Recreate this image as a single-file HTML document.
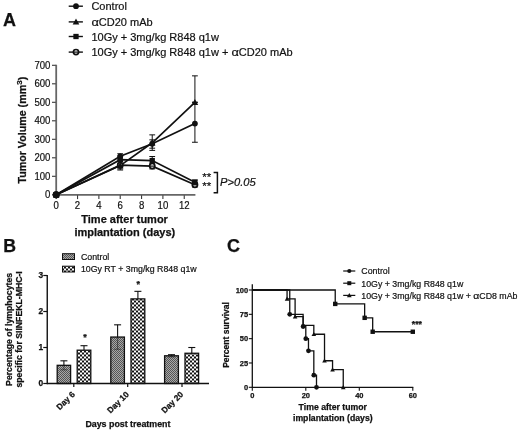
<!DOCTYPE html>
<html lang="en"><head><meta charset="utf-8"><title>Figure</title>
<style>
html,body{margin:0;padding:0;background:#fff;}
body{width:520px;height:432px;overflow:hidden;}
svg{display:block;font-family:"Liberation Sans", Arial, sans-serif;fill:#111;stroke:#111;}
svg text{stroke:#111;stroke-width:0.2px;}
svg text[font-weight=bold]{stroke:#111;stroke-width:0.25px;}
</style></head><body>
<svg width="520" height="432" viewBox="0 0 520 432">
<defs>
<pattern id="fine" width="2" height="2" patternUnits="userSpaceOnUse">
<rect width="2" height="2" fill="#a8a8a8" stroke="none"/><rect width="1" height="1" fill="#555" stroke="none"/><rect x="1" y="1" width="1" height="1" fill="#555" stroke="none"/>
</pattern>
<pattern id="check" width="4" height="4" patternUnits="userSpaceOnUse" x="2" y="0.5">
<rect width="4" height="4" fill="#fff" stroke="none"/><rect width="2" height="2" fill="#111" stroke="none"/><rect x="2" y="2" width="2" height="2" fill="#111" stroke="none"/>
</pattern>
</defs>
<rect width="520" height="432" fill="#fff" stroke="none"/>

<text x="3.00" y="26.20" font-size="18" font-weight="bold" font-style="normal" text-anchor="start">A</text>
<line x1="68.70" y1="6.20" x2="82.90" y2="6.20" stroke-width="1.4"/>
<circle cx="76.00" cy="6.20" r="2.9" fill="#111" stroke-width="0"/>
<text x="91.40" y="10.20" font-size="11" font-weight="normal" font-style="normal" text-anchor="start">Control</text>
<line x1="68.70" y1="21.90" x2="82.90" y2="21.90" stroke-width="1.4"/>
<polygon points="76.00,18.60 72.70,24.54 79.30,24.54" fill="#111" stroke="none"/>
<text x="91.40" y="25.90" font-size="11" font-weight="normal" font-style="normal" text-anchor="start"><tspan textLength="7.4" lengthAdjust="spacingAndGlyphs">&#945;</tspan>CD20 mAb</text>
<line x1="68.70" y1="36.50" x2="82.90" y2="36.50" stroke-width="1.4"/>
<rect x="73.35" y="33.85" width="5.3" height="5.3" fill="#111" stroke="none"/>
<text x="91.40" y="40.50" font-size="11" font-weight="normal" font-style="normal" text-anchor="start">10Gy + 3mg/kg R848 q1w</text>
<line x1="68.70" y1="52.10" x2="82.90" y2="52.10" stroke-width="1.4"/>
<circle cx="76.00" cy="52.10" r="2.6" fill="#fff" stroke-width="1.7"/>
<line x1="73.40" y1="52.10" x2="78.60" y2="52.10" stroke-width="1.2"/>
<text x="91.40" y="56.10" font-size="11" font-weight="normal" font-style="normal" text-anchor="start">10Gy + 3mg/kg R848 q1w + <tspan textLength="7.4" lengthAdjust="spacingAndGlyphs">&#945;</tspan>CD20 mAb</text>
<line x1="56.20" y1="194.80" x2="195.41" y2="194.80" stroke-width="1.8" stroke="#666"/>
<line x1="56.20" y1="64.70" x2="56.20" y2="195.70" stroke-width="1.8" stroke="#666"/>
<line x1="52.00" y1="194.80" x2="55.80" y2="194.80" stroke-width="1.1" stroke="#3a3a3a"/>
<text x="50.40" y="198.30" font-size="10.3" font-weight="normal" font-style="normal" text-anchor="end" textLength="5.34" lengthAdjust="spacingAndGlyphs">0</text>
<line x1="52.00" y1="176.30" x2="55.80" y2="176.30" stroke-width="1.1" stroke="#3a3a3a"/>
<text x="50.40" y="179.80" font-size="10.3" font-weight="normal" font-style="normal" text-anchor="end" textLength="16.01" lengthAdjust="spacingAndGlyphs">100</text>
<line x1="52.00" y1="157.80" x2="55.80" y2="157.80" stroke-width="1.1" stroke="#3a3a3a"/>
<text x="50.40" y="161.30" font-size="10.3" font-weight="normal" font-style="normal" text-anchor="end" textLength="16.01" lengthAdjust="spacingAndGlyphs">200</text>
<line x1="52.00" y1="139.30" x2="55.80" y2="139.30" stroke-width="1.1" stroke="#3a3a3a"/>
<text x="50.40" y="142.80" font-size="10.3" font-weight="normal" font-style="normal" text-anchor="end" textLength="16.01" lengthAdjust="spacingAndGlyphs">300</text>
<line x1="52.00" y1="120.80" x2="55.80" y2="120.80" stroke-width="1.1" stroke="#3a3a3a"/>
<text x="50.40" y="124.30" font-size="10.3" font-weight="normal" font-style="normal" text-anchor="end" textLength="16.01" lengthAdjust="spacingAndGlyphs">400</text>
<line x1="52.00" y1="102.30" x2="55.80" y2="102.30" stroke-width="1.1" stroke="#3a3a3a"/>
<text x="50.40" y="105.80" font-size="10.3" font-weight="normal" font-style="normal" text-anchor="end" textLength="16.01" lengthAdjust="spacingAndGlyphs">500</text>
<line x1="52.00" y1="83.80" x2="55.80" y2="83.80" stroke-width="1.1" stroke="#3a3a3a"/>
<text x="50.40" y="87.30" font-size="10.3" font-weight="normal" font-style="normal" text-anchor="end" textLength="16.01" lengthAdjust="spacingAndGlyphs">600</text>
<line x1="52.00" y1="65.30" x2="55.80" y2="65.30" stroke-width="1.1" stroke="#3a3a3a"/>
<text x="50.40" y="68.80" font-size="10.3" font-weight="normal" font-style="normal" text-anchor="end" textLength="16.01" lengthAdjust="spacingAndGlyphs">700</text>
<line x1="56.20" y1="195.20" x2="56.20" y2="199.10" stroke-width="1.1" stroke="#3a3a3a"/>
<text x="56.20" y="208.80" font-size="10.3" font-weight="normal" font-style="normal" text-anchor="middle" textLength="5.34" lengthAdjust="spacingAndGlyphs">0</text>
<line x1="77.54" y1="195.20" x2="77.54" y2="199.10" stroke-width="1.1" stroke="#3a3a3a"/>
<text x="77.54" y="208.80" font-size="10.3" font-weight="normal" font-style="normal" text-anchor="middle" textLength="5.34" lengthAdjust="spacingAndGlyphs">2</text>
<line x1="98.88" y1="195.20" x2="98.88" y2="199.10" stroke-width="1.1" stroke="#3a3a3a"/>
<text x="98.88" y="208.80" font-size="10.3" font-weight="normal" font-style="normal" text-anchor="middle" textLength="5.34" lengthAdjust="spacingAndGlyphs">4</text>
<line x1="120.22" y1="195.20" x2="120.22" y2="199.10" stroke-width="1.1" stroke="#3a3a3a"/>
<text x="120.22" y="208.80" font-size="10.3" font-weight="normal" font-style="normal" text-anchor="middle" textLength="5.34" lengthAdjust="spacingAndGlyphs">6</text>
<line x1="141.56" y1="195.20" x2="141.56" y2="199.10" stroke-width="1.1" stroke="#3a3a3a"/>
<text x="141.56" y="208.80" font-size="10.3" font-weight="normal" font-style="normal" text-anchor="middle" textLength="5.34" lengthAdjust="spacingAndGlyphs">8</text>
<line x1="162.90" y1="195.20" x2="162.90" y2="199.10" stroke-width="1.1" stroke="#3a3a3a"/>
<text x="162.90" y="208.80" font-size="10.3" font-weight="normal" font-style="normal" text-anchor="middle" textLength="10.68" lengthAdjust="spacingAndGlyphs">10</text>
<line x1="184.24" y1="195.20" x2="184.24" y2="199.10" stroke-width="1.1" stroke="#3a3a3a"/>
<text x="184.24" y="208.80" font-size="10.3" font-weight="normal" font-style="normal" text-anchor="middle" textLength="10.68" lengthAdjust="spacingAndGlyphs">12</text>
<text transform="translate(26.2,130.2) rotate(-90)" font-size="10.7" font-weight="bold" text-anchor="middle">Tumor Volume (mm<tspan font-size="8" dy="-4">3</tspan><tspan dy="4">)</tspan></text>
<text x="124.60" y="223.00" font-size="11" font-weight="bold" font-style="normal" text-anchor="middle">Time after tumor</text>
<text x="124.80" y="236.00" font-size="11" font-weight="bold" font-style="normal" text-anchor="middle">implantation (days)</text>
<line x1="120.22" y1="159.65" x2="120.22" y2="153.73" stroke-width="1.0"/>
<line x1="117.32" y1="159.65" x2="123.12" y2="159.65" stroke-width="1.0"/>
<line x1="117.32" y1="153.73" x2="123.12" y2="153.73" stroke-width="1.0"/>
<line x1="152.23" y1="148.18" x2="152.23" y2="139.86" stroke-width="1.0"/>
<line x1="149.33" y1="148.18" x2="155.13" y2="148.18" stroke-width="1.0"/>
<line x1="149.33" y1="139.86" x2="155.13" y2="139.86" stroke-width="1.0"/>
<line x1="194.91" y1="142.26" x2="194.91" y2="102.30" stroke-width="1.0"/>
<line x1="192.01" y1="142.26" x2="197.81" y2="142.26" stroke-width="1.0"/>
<line x1="192.01" y1="102.30" x2="197.81" y2="102.30" stroke-width="1.0"/>
<polyline fill="none" stroke-width="1.7" points="56.20,194.80 120.22,156.32 152.23,143.74 194.91,123.58"/>
<line x1="120.22" y1="170.01" x2="120.22" y2="161.13" stroke-width="1.0"/>
<line x1="117.32" y1="170.01" x2="123.12" y2="170.01" stroke-width="1.0"/>
<line x1="117.32" y1="161.13" x2="123.12" y2="161.13" stroke-width="1.0"/>
<line x1="152.23" y1="150.40" x2="152.23" y2="134.86" stroke-width="1.0"/>
<line x1="149.33" y1="150.40" x2="155.13" y2="150.40" stroke-width="1.0"/>
<line x1="149.33" y1="134.86" x2="155.13" y2="134.86" stroke-width="1.0"/>
<line x1="194.91" y1="102.30" x2="194.91" y2="75.85" stroke-width="1.0"/>
<line x1="192.01" y1="102.30" x2="197.81" y2="102.30" stroke-width="1.0"/>
<line x1="192.01" y1="75.85" x2="197.81" y2="75.85" stroke-width="1.0"/>
<polyline fill="none" stroke-width="1.7" points="56.20,194.80 120.22,165.57 152.23,142.81 194.91,102.30"/>
<line x1="120.22" y1="163.35" x2="120.22" y2="155.95" stroke-width="1.0"/>
<line x1="117.32" y1="163.35" x2="123.12" y2="163.35" stroke-width="1.0"/>
<line x1="117.32" y1="155.95" x2="123.12" y2="155.95" stroke-width="1.0"/>
<line x1="152.23" y1="164.65" x2="152.23" y2="156.50" stroke-width="1.0"/>
<line x1="149.33" y1="164.65" x2="155.13" y2="164.65" stroke-width="1.0"/>
<line x1="149.33" y1="156.50" x2="155.13" y2="156.50" stroke-width="1.0"/>
<line x1="194.91" y1="184.26" x2="194.91" y2="180.00" stroke-width="1.0"/>
<line x1="192.01" y1="184.26" x2="197.81" y2="184.26" stroke-width="1.0"/>
<line x1="192.01" y1="180.00" x2="197.81" y2="180.00" stroke-width="1.0"/>
<polyline fill="none" stroke-width="1.7" points="56.20,194.80 120.22,159.65 152.23,160.58 194.91,182.22"/>
<line x1="120.22" y1="168.90" x2="120.22" y2="161.50" stroke-width="1.0"/>
<line x1="117.32" y1="168.90" x2="123.12" y2="168.90" stroke-width="1.0"/>
<line x1="117.32" y1="161.50" x2="123.12" y2="161.50" stroke-width="1.0"/>
<line x1="152.23" y1="168.90" x2="152.23" y2="163.35" stroke-width="1.0"/>
<line x1="149.33" y1="168.90" x2="155.13" y2="168.90" stroke-width="1.0"/>
<line x1="149.33" y1="163.35" x2="155.13" y2="163.35" stroke-width="1.0"/>
<line x1="194.91" y1="187.03" x2="194.91" y2="182.96" stroke-width="1.0"/>
<line x1="192.01" y1="187.03" x2="197.81" y2="187.03" stroke-width="1.0"/>
<line x1="192.01" y1="182.96" x2="197.81" y2="182.96" stroke-width="1.0"/>
<polyline fill="none" stroke-width="1.7" points="56.20,194.80 120.22,165.20 152.23,166.12 194.91,184.81"/>
<circle cx="56.20" cy="194.80" r="2.6" fill="#fff" stroke-width="1.7"/>
<line x1="53.60" y1="194.80" x2="58.80" y2="194.80" stroke-width="1.2"/>
<circle cx="120.22" cy="165.20" r="2.6" fill="#fff" stroke-width="1.7"/>
<line x1="117.62" y1="165.20" x2="122.82" y2="165.20" stroke-width="1.2"/>
<circle cx="152.23" cy="166.12" r="2.6" fill="#fff" stroke-width="1.7"/>
<line x1="149.63" y1="166.12" x2="154.83" y2="166.12" stroke-width="1.2"/>
<circle cx="194.91" cy="184.81" r="2.6" fill="#fff" stroke-width="1.7"/>
<line x1="192.31" y1="184.81" x2="197.51" y2="184.81" stroke-width="1.2"/>
<circle cx="56.20" cy="194.80" r="2.9" fill="#111" stroke-width="0"/>
<circle cx="120.22" cy="156.32" r="2.9" fill="#111" stroke-width="0"/>
<circle cx="152.23" cy="143.74" r="2.9" fill="#111" stroke-width="0"/>
<circle cx="194.91" cy="123.58" r="2.9" fill="#111" stroke-width="0"/>
<polygon points="56.20,191.50 52.90,197.44 59.50,197.44" fill="#111" stroke="none"/>
<polygon points="120.22,162.27 116.92,168.21 123.52,168.21" fill="#111" stroke="none"/>
<polygon points="152.23,139.51 148.93,145.45 155.53,145.45" fill="#111" stroke="none"/>
<polygon points="194.91,99.00 191.61,104.94 198.21,104.94" fill="#111" stroke="none"/>
<rect x="53.55" y="192.15" width="5.3" height="5.3" fill="#111" stroke="none"/>
<rect x="117.57" y="157.00" width="5.3" height="5.3" fill="#111" stroke="none"/>
<rect x="149.58" y="157.93" width="5.3" height="5.3" fill="#111" stroke="none"/>
<rect x="192.26" y="179.57" width="5.3" height="5.3" fill="#111" stroke="none"/>
<circle cx="56.20" cy="194.80" r="3.5" fill="#111" stroke-width="0"/>
<text x="202.20" y="181.20" font-size="11.5" font-weight="normal" font-style="normal" text-anchor="start">**</text>
<text x="202.20" y="190.00" font-size="11.5" font-weight="normal" font-style="normal" text-anchor="start">**</text>
<polyline fill="none" stroke-width="1.5" points="213.60,172.40 217.40,172.40 217.40,192.80 213.60,192.80"/>
<text x="220.00" y="185.60" font-size="11.2" font-weight="normal" font-style="italic" text-anchor="start">P&gt;0.05</text>
<text x="3.20" y="252.00" font-size="17.7" font-weight="bold" font-style="normal" text-anchor="start">B</text>
<rect x="62.5" y="253.7" width="12" height="5.8" fill="url(#fine)" stroke-width="1"/>
<rect x="62.5" y="266.2" width="12" height="5.8" fill="url(#check)" stroke-width="1"/>
<text x="80.90" y="260.00" font-size="8.8" font-weight="normal" font-style="normal" text-anchor="start">Control</text>
<text x="80.90" y="271.80" font-size="8.8" font-weight="normal" font-style="normal" text-anchor="start">10Gy RT + 3mg/kg R848 q1w</text>
<line x1="63.90" y1="360.82" x2="63.90" y2="369.82" stroke-width="1.1"/>
<line x1="60.40" y1="360.82" x2="67.40" y2="360.82" stroke-width="1.1"/>
<rect x="57.20" y="365.32" width="13.40" height="18.18" fill="url(#fine)" stroke-width="1.3"/>
<line x1="63.90" y1="365.32" x2="63.90" y2="369.82" stroke-width="1.0" stroke-opacity="0.5"/>
<line x1="60.40" y1="369.82" x2="67.40" y2="369.82" stroke-width="1.0" stroke-opacity="0.5"/>
<line x1="84.00" y1="345.70" x2="84.00" y2="354.70" stroke-width="1.1"/>
<line x1="80.50" y1="345.70" x2="87.50" y2="345.70" stroke-width="1.1"/>
<rect x="77.20" y="350.20" width="13.60" height="33.30" fill="url(#check)" stroke-width="1.3"/>
<line x1="117.60" y1="324.82" x2="117.60" y2="349.30" stroke-width="1.1"/>
<line x1="114.10" y1="324.82" x2="121.10" y2="324.82" stroke-width="1.1"/>
<rect x="110.80" y="337.06" width="13.60" height="46.44" fill="url(#fine)" stroke-width="1.3"/>
<line x1="117.60" y1="337.06" x2="117.60" y2="349.30" stroke-width="1.0" stroke-opacity="0.5"/>
<line x1="114.10" y1="349.30" x2="121.10" y2="349.30" stroke-width="1.0" stroke-opacity="0.5"/>
<line x1="137.90" y1="291.34" x2="137.90" y2="306.46" stroke-width="1.1"/>
<line x1="134.40" y1="291.34" x2="141.40" y2="291.34" stroke-width="1.1"/>
<rect x="131.00" y="298.90" width="13.80" height="84.60" fill="url(#check)" stroke-width="1.3"/>
<line x1="171.50" y1="354.70" x2="171.50" y2="356.86" stroke-width="1.1"/>
<line x1="168.00" y1="354.70" x2="175.00" y2="354.70" stroke-width="1.1"/>
<rect x="164.60" y="355.78" width="13.80" height="27.72" fill="url(#fine)" stroke-width="1.3"/>
<line x1="171.50" y1="355.78" x2="171.50" y2="356.86" stroke-width="1.0" stroke-opacity="0.5"/>
<line x1="168.00" y1="356.86" x2="175.00" y2="356.86" stroke-width="1.0" stroke-opacity="0.5"/>
<line x1="191.80" y1="347.50" x2="191.80" y2="359.02" stroke-width="1.1"/>
<line x1="188.30" y1="347.50" x2="195.30" y2="347.50" stroke-width="1.1"/>
<rect x="185.00" y="353.26" width="13.60" height="30.24" fill="url(#check)" stroke-width="1.3"/>
<line x1="47.25" y1="383.50" x2="209.00" y2="383.50" stroke-width="1.4"/>
<line x1="47.25" y1="274.90" x2="47.25" y2="384.20" stroke-width="1.4"/>
<line x1="43.25" y1="383.50" x2="47.25" y2="383.50" stroke-width="1.2"/>
<text x="43.25" y="386.20" font-size="8.4" font-weight="bold" font-style="normal" text-anchor="end">0</text>
<line x1="43.25" y1="347.50" x2="47.25" y2="347.50" stroke-width="1.2"/>
<text x="43.25" y="350.20" font-size="8.4" font-weight="bold" font-style="normal" text-anchor="end">1</text>
<line x1="43.25" y1="311.50" x2="47.25" y2="311.50" stroke-width="1.2"/>
<text x="43.25" y="314.20" font-size="8.4" font-weight="bold" font-style="normal" text-anchor="end">2</text>
<line x1="43.25" y1="275.50" x2="47.25" y2="275.50" stroke-width="1.2"/>
<text x="43.25" y="278.20" font-size="8.4" font-weight="bold" font-style="normal" text-anchor="end">3</text>
<line x1="73.80" y1="383.50" x2="73.80" y2="387.00" stroke-width="1.2"/>
<text transform="translate(75.5,394.9) rotate(-45)" font-size="8.3" font-weight="bold" text-anchor="end">Day 6</text>
<line x1="127.70" y1="383.50" x2="127.70" y2="387.00" stroke-width="1.2"/>
<text transform="translate(129.4,394.9) rotate(-45)" font-size="8.3" font-weight="bold" text-anchor="end">Day 10</text>
<line x1="182.00" y1="383.50" x2="182.00" y2="387.00" stroke-width="1.2"/>
<text transform="translate(183.7,394.9) rotate(-45)" font-size="8.3" font-weight="bold" text-anchor="end">Day 20</text>
<text x="85.00" y="340.30" font-size="9" font-weight="bold" font-style="normal" text-anchor="middle">*</text>
<text x="138.30" y="286.70" font-size="9" font-weight="bold" font-style="normal" text-anchor="middle">*</text>
<text transform="translate(11.9,329.4) rotate(-90)" font-size="8.7" font-weight="bold" text-anchor="middle">Percentage of lymphocytes</text>
<text transform="translate(22.3,329.4) rotate(-90)" font-size="8.7" font-weight="bold" text-anchor="middle">specific for SIINFEKL-MHC-I</text>
<text x="127.90" y="427.00" font-size="8.85" font-weight="bold" font-style="normal" text-anchor="middle">Days post treatment</text>
<text x="227.00" y="252.10" font-size="18" font-weight="bold" font-style="normal" text-anchor="start">C</text>
<line x1="343.20" y1="271.00" x2="355.30" y2="271.00" stroke-width="1.2"/>
<circle cx="349.30" cy="271.00" r="2.1" fill="#111" stroke-width="0"/>
<text x="361.30" y="274.30" font-size="8.8" font-weight="normal" font-style="normal" text-anchor="start">Control</text>
<line x1="343.20" y1="283.20" x2="355.30" y2="283.20" stroke-width="1.2"/>
<rect x="347.30" y="281.20" width="4.0" height="4.0" fill="#111" stroke="none"/>
<text x="361.30" y="286.50" font-size="8.8" font-weight="normal" font-style="normal" text-anchor="start">10Gy + 3mg/kg R848 q1w</text>
<line x1="343.20" y1="295.40" x2="355.30" y2="295.40" stroke-width="1.2"/>
<polygon points="349.30,293.00 346.90,297.32 351.70,297.32" fill="#111" stroke="none"/>
<text x="361.30" y="298.70" font-size="8.8" font-weight="normal" font-style="normal" text-anchor="start">10Gy + 3mg/kg R848 q1w + <tspan textLength="6" lengthAdjust="spacingAndGlyphs">&#945;</tspan>CD8 mAb</text>
<line x1="252.30" y1="387.30" x2="413.30" y2="387.30" stroke-width="1.3"/>
<line x1="252.30" y1="284.30" x2="252.30" y2="387.90" stroke-width="1.3"/>
<line x1="248.80" y1="387.30" x2="252.30" y2="387.30" stroke-width="1.1"/>
<text x="248.20" y="390.10" font-size="8.1" font-weight="bold" font-style="normal" text-anchor="end" textLength="4.17" lengthAdjust="spacingAndGlyphs">0</text>
<line x1="248.80" y1="362.98" x2="252.30" y2="362.98" stroke-width="1.1"/>
<text x="248.20" y="365.78" font-size="8.1" font-weight="bold" font-style="normal" text-anchor="end" textLength="8.34" lengthAdjust="spacingAndGlyphs">25</text>
<line x1="248.80" y1="338.65" x2="252.30" y2="338.65" stroke-width="1.1"/>
<text x="248.20" y="341.45" font-size="8.1" font-weight="bold" font-style="normal" text-anchor="end" textLength="8.34" lengthAdjust="spacingAndGlyphs">50</text>
<line x1="248.80" y1="314.33" x2="252.30" y2="314.33" stroke-width="1.1"/>
<text x="248.20" y="317.13" font-size="8.1" font-weight="bold" font-style="normal" text-anchor="end" textLength="8.34" lengthAdjust="spacingAndGlyphs">75</text>
<line x1="248.80" y1="290.00" x2="252.30" y2="290.00" stroke-width="1.1"/>
<text x="248.20" y="292.80" font-size="8.1" font-weight="bold" font-style="normal" text-anchor="end" textLength="12.51" lengthAdjust="spacingAndGlyphs">100</text>
<line x1="252.30" y1="387.30" x2="252.30" y2="390.80" stroke-width="1.1"/>
<text x="252.30" y="398.30" font-size="8.1" font-weight="bold" font-style="normal" text-anchor="middle" textLength="4.17" lengthAdjust="spacingAndGlyphs">0</text>
<line x1="305.80" y1="387.30" x2="305.80" y2="390.80" stroke-width="1.1"/>
<text x="305.80" y="398.30" font-size="8.1" font-weight="bold" font-style="normal" text-anchor="middle" textLength="8.34" lengthAdjust="spacingAndGlyphs">20</text>
<line x1="359.30" y1="387.30" x2="359.30" y2="390.80" stroke-width="1.1"/>
<text x="359.30" y="398.30" font-size="8.1" font-weight="bold" font-style="normal" text-anchor="middle" textLength="8.34" lengthAdjust="spacingAndGlyphs">40</text>
<line x1="412.80" y1="387.30" x2="412.80" y2="390.80" stroke-width="1.1"/>
<text x="412.80" y="398.30" font-size="8.1" font-weight="bold" font-style="normal" text-anchor="middle" textLength="8.34" lengthAdjust="spacingAndGlyphs">60</text>
<text transform="translate(229.4,335) rotate(-90)" font-size="8.5" font-weight="bold" text-anchor="middle">Percent survival</text>
<text x="332.80" y="409.60" font-size="8.7" font-weight="bold" font-style="normal" text-anchor="middle">Time after tumor</text>
<text x="332.80" y="420.60" font-size="8.7" font-weight="bold" font-style="normal" text-anchor="middle">implantation (days)</text>
<polyline fill="none" stroke-width="1.3" points="252.30,290.00 335.23,290.00 335.23,303.91 364.65,303.91 364.65,317.83 372.68,317.83 372.68,331.74 412.80,331.74"/>
<polyline fill="none" stroke-width="1.3" points="252.30,290.00 287.07,290.00 287.07,298.85 295.10,298.85 295.10,316.56 303.12,316.56 303.12,325.42 313.82,325.42 313.82,334.27 324.52,334.27 324.52,360.74 332.55,360.74 332.55,369.59 343.25,369.59 343.25,387.30"/>
<polyline fill="none" stroke-width="1.3" points="252.30,290.00 289.75,290.00 289.75,314.33 303.12,314.33 303.12,326.49 305.80,326.49 305.80,338.65 308.48,338.65 308.48,350.81 313.82,350.81 313.82,375.14 316.50,375.14 316.50,387.30"/>
<rect x="333.03" y="301.71" width="4.4" height="4.4" fill="#111" stroke="none"/>
<rect x="362.45" y="315.63" width="4.4" height="4.4" fill="#111" stroke="none"/>
<rect x="370.48" y="329.54" width="4.4" height="4.4" fill="#111" stroke="none"/>
<rect x="410.60" y="329.54" width="4.4" height="4.4" fill="#111" stroke="none"/>
<polygon points="287.07,296.55 284.77,300.69 289.38,300.69" fill="#111" stroke="none"/>
<polygon points="295.10,314.26 292.80,318.40 297.40,318.40" fill="#111" stroke="none"/>
<polygon points="313.82,331.97 311.52,336.11 316.12,336.11" fill="#111" stroke="none"/>
<polygon points="324.52,358.44 322.22,362.58 326.82,362.58" fill="#111" stroke="none"/>
<polygon points="332.55,367.29 330.25,371.43 334.85,371.43" fill="#111" stroke="none"/>
<polygon points="343.25,385.00 340.95,389.14 345.55,389.14" fill="#111" stroke="none"/>
<circle cx="289.75" cy="314.33" r="2.4" fill="#111" stroke-width="0"/>
<circle cx="303.12" cy="326.49" r="2.4" fill="#111" stroke-width="0"/>
<circle cx="305.80" cy="338.65" r="2.4" fill="#111" stroke-width="0"/>
<circle cx="308.48" cy="350.81" r="2.4" fill="#111" stroke-width="0"/>
<circle cx="313.82" cy="375.14" r="2.4" fill="#111" stroke-width="0"/>
<circle cx="316.50" cy="387.30" r="2.4" fill="#111" stroke-width="0"/>
<text x="411.80" y="327.00" font-size="8.7" font-weight="bold" font-style="normal" text-anchor="start">***</text>
</svg></body></html>
